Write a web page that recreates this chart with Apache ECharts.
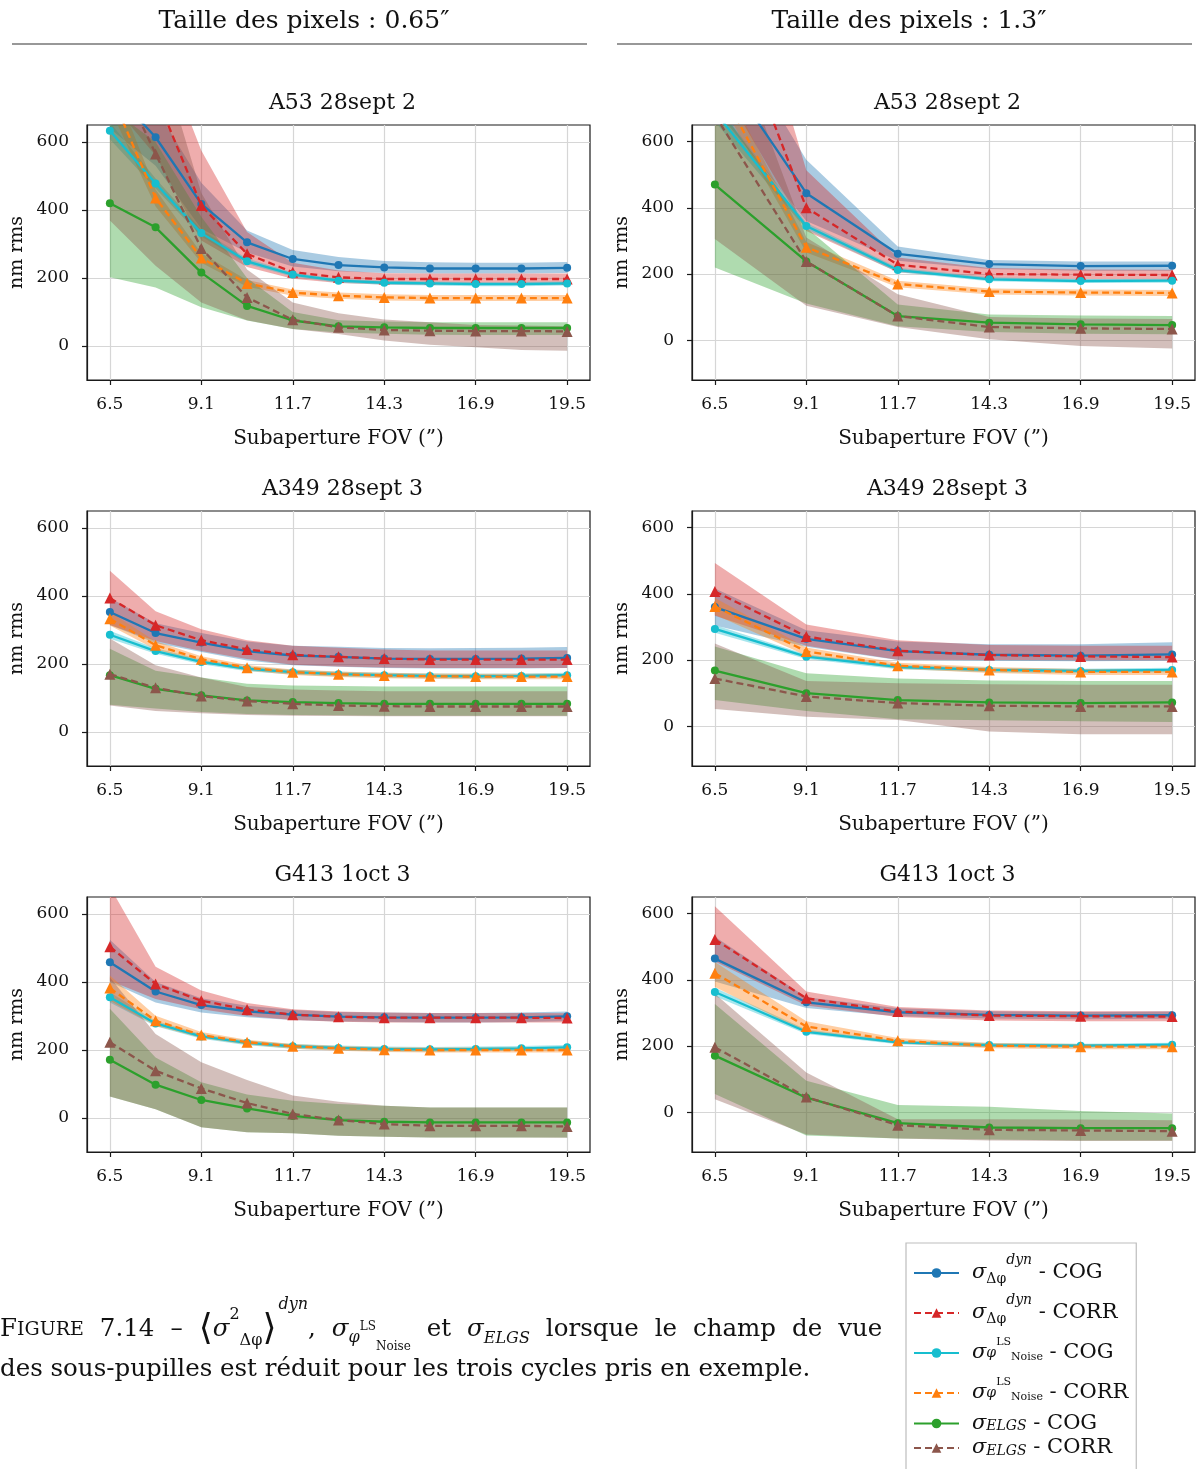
<!DOCTYPE html>
<html><head><meta charset="utf-8">
<script src="https://cdn.jsdelivr.net/npm/echarts@6.0.0/dist/echarts.min.js"></script>
<style>html,body{margin:0;padding:0;background:#fff}#c{width:1203px;height:1469px}</style>
</head><body><div id="c"></div>
<script>
// ---------------- DATA ----------------
const xFine = [6.5, 7.8, 9.1, 10.4, 11.7, 13.0, 14.3, 15.6, 16.9, 18.2, 19.5];
const xCoarse = [6.5, 9.1, 11.7, 14.3, 16.9, 19.5];
const xTicks = [6.5, 9.1, 11.7, 14.3, 16.9, 19.5];
const yTicks = [0, 200, 400, 600];
const panelTitles = ['A53 28sept 2', 'A53 28sept 2', 'A349 28sept 3', 'A349 28sept 3', 'G413 1oct 3', 'G413 1oct 3'];
const columnHeaders = ['Taille des pixels : 0.65\u2033', 'Taille des pixels : 1.3\u2033'];
const seriesKeys = ['dynCOG', 'dynCORR', 'noiseCOG', 'noiseCORR', 'elgsCOG', 'elgsCORR'];
const xAxisName = 'Subaperture FOV (\u201d)';
const yAxisName = 'nm rms';

// Panel 1 : A53 28sept 2, 0.65"
const p1_dynCOG      = [760, 614, 418, 305, 256, 238, 231, 228, 228, 228, 230];
const p1_dynCOG_lo   = [640, 530, 345, 275, 234, 220, 215, 213, 213, 213, 215];
const p1_dynCOG_hi   = [880, 700, 480, 340, 282, 262, 250, 246, 245, 245, 247];
const p1_dynCORR     = [920, 740, 413, 271, 217, 202, 197, 197, 197, 197, 197];
const p1_dynCORR_lo  = [720, 560, 310, 232, 198, 185, 181, 180, 180, 180, 180];
const p1_dynCORR_hi  = [1120, 920, 575, 335, 245, 222, 214, 213, 213, 213, 213];
const p1_noiseCOG    = [633, 478, 332, 249, 210, 192, 186, 184, 182, 182, 184];
const p1_noiseCOG_lo = [608, 463, 322, 241, 204, 186, 180, 178, 176, 176, 178];
const p1_noiseCOG_hi = [658, 493, 342, 257, 216, 198, 192, 190, 188, 188, 190];
const p1_noiseCORR   = [750, 435, 259, 184, 157, 148, 143, 141, 141, 141, 141];
const p1_noiseCORR_lo= [700, 410, 245, 174, 148, 139, 134, 132, 132, 132, 132];
const p1_noiseCORR_hi= [800, 460, 273, 194, 166, 157, 152, 150, 150, 150, 150];
const p1_elgsCOG     = [420, 349, 216, 118, 75, 58, 55, 53, 53, 53, 53];
const p1_elgsCOG_lo  = [202, 172, 114, 75, 50, 40, 36, 33, 32, 32, 32];
const p1_elgsCOG_hi  = [700, 600, 380, 200, 100, 76, 72, 70, 70, 70, 70];
const p1_elgsCORR    = [850, 565, 287, 143, 77, 55, 47, 45, 44, 44, 43];
const p1_elgsCORR_lo = [369, 236, 128, 76, 50, 35, 16, 4, -4, -12, -14];
const p1_elgsCORR_hi = [1300, 900, 450, 225, 128, 96, 78, 70, 62, 60, 58];

// Panel 2 : A53 28sept 2, 1.3"
const p2_dynCOG      = [850, 444, 261, 230, 224, 225];
const p2_dynCOG_lo   = [700, 360, 240, 215, 210, 210];
const p2_dynCOG_hi   = [1000, 545, 283, 242, 238, 238];
const p2_dynCORR     = [1120, 400, 228, 200, 198, 197];
const p2_dynCORR_lo  = [800, 330, 205, 186, 184, 183];
const p2_dynCORR_hi  = [1450, 513, 250, 218, 214, 213];
const p2_noiseCOG    = [690, 345, 212, 184, 179, 180];
const p2_noiseCOG_lo = [660, 335, 205, 178, 173, 174];
const p2_noiseCOG_hi = [720, 355, 219, 190, 185, 186];
const p2_noiseCORR   = [790, 281, 170, 147, 144, 143];
const p2_noiseCORR_lo= [750, 265, 160, 138, 135, 134];
const p2_noiseCORR_hi= [830, 297, 180, 156, 153, 152];
const p2_elgsCOG     = [470, 238, 73, 53, 48, 46];
const p2_elgsCOG_lo  = [220, 111, 42, 25, 20, 18];
const p2_elgsCOG_hi  = [720, 340, 108, 78, 75, 73];
const p2_elgsCORR    = [680, 238, 73, 40, 36, 34];
const p2_elgsCORR_lo = [306, 104, 40, 3, -17, -25];
const p2_elgsCORR_hi = [1050, 310, 139, 70, 66, 64];

// Panel 3 : A349 28sept 3, 0.65"
const p3_dynCOG      = [353, 291, 263, 238, 225, 221, 216, 215, 215, 216, 218];
const p3_dynCOG_lo   = [315, 262, 235, 210, 196, 192, 188, 187, 187, 187, 188];
const p3_dynCOG_hi   = [395, 320, 291, 266, 254, 251, 247, 246, 247, 248, 250];
const p3_dynCORR     = [394, 314, 270, 243, 227, 221, 216, 213, 213, 213, 213];
const p3_dynCORR_lo  = [315, 268, 238, 215, 198, 193, 190, 188, 188, 188, 188];
const p3_dynCORR_hi  = [474, 355, 302, 270, 254, 248, 243, 240, 240, 240, 240];
const p3_noiseCOG    = [286, 238, 206, 186, 176, 170, 167, 165, 164, 165, 167];
const p3_noiseCOG_lo = [274, 230, 199, 179, 169, 163, 160, 158, 157, 158, 160];
const p3_noiseCOG_hi = [298, 246, 213, 193, 183, 177, 174, 172, 171, 172, 174];
const p3_noiseCORR   = [333, 255, 214, 189, 176, 170, 166, 164, 163, 163, 163];
const p3_noiseCORR_lo= [313, 243, 205, 181, 168, 162, 158, 156, 155, 155, 155];
const p3_noiseCORR_hi= [353, 267, 223, 197, 184, 178, 174, 172, 171, 171, 171];
const p3_elgsCOG     = [167, 127, 108, 93, 88, 85, 83, 83, 83, 83, 83];
const p3_elgsCOG_lo  = [80, 69, 59, 53, 50, 49, 48, 48, 48, 48, 48];
const p3_elgsCOG_hi  = [245, 180, 160, 142, 137, 135, 134, 134, 134, 134, 134];
const p3_elgsCORR    = [170, 130, 106, 91, 83, 78, 76, 75, 75, 75, 75];
const p3_elgsCORR_lo = [78, 62, 55, 50, 48, 47, 46, 46, 46, 46, 46];
const p3_elgsCORR_hi = [275, 196, 160, 132, 125, 122, 120, 120, 120, 120, 120];

// Panel 4 : A349 28sept 3, 1.3"
const p4_dynCOG      = [360, 264, 227, 216, 213, 217];
const p4_dynCOG_lo   = [304, 240, 200, 198, 196, 198];
const p4_dynCOG_hi   = [416, 290, 256, 248, 248, 254];
const p4_dynCORR     = [407, 271, 228, 215, 211, 209];
const p4_dynCORR_lo  = [334, 243, 201, 200, 199, 199];
const p4_dynCORR_hi  = [493, 307, 260, 245, 243, 243];
const p4_noiseCOG    = [294, 210, 179, 170, 167, 170];
const p4_noiseCOG_lo = [282, 203, 172, 163, 160, 163];
const p4_noiseCOG_hi = [306, 217, 186, 177, 174, 177];
const p4_noiseCORR   = [362, 226, 183, 170, 164, 164];
const p4_noiseCORR_lo= [337, 214, 174, 161, 155, 155];
const p4_noiseCORR_hi= [387, 238, 192, 179, 173, 173];
const p4_elgsCOG     = [168, 100, 79, 72, 70, 72];
const p4_elgsCOG_lo  = [79, 46, 21, 18, 15, 13];
const p4_elgsCOG_hi  = [241, 160, 144, 138, 137, 137];
const p4_elgsCORR    = [144, 90, 70, 62, 60, 60];
const p4_elgsCORR_lo = [52, 29, 19, -16, -24, -24];
const p4_elgsCORR_hi = [250, 137, 130, 127, 125, 125];

// Panel 5 : G413 1oct 3, 0.65"
const p5_dynCOG      = [458, 372, 332, 314, 304, 298, 296, 295, 295, 296, 299];
const p5_dynCOG_lo   = [400, 340, 310, 296, 288, 284, 282, 281, 281, 282, 285];
const p5_dynCOG_hi   = [524, 400, 352, 330, 318, 312, 310, 309, 309, 310, 313];
const p5_dynCORR     = [504, 394, 345, 319, 304, 298, 295, 295, 295, 295, 294];
const p5_dynCORR_lo  = [404, 350, 320, 300, 288, 283, 281, 281, 281, 281, 281];
const p5_dynCORR_hi  = [680, 445, 375, 338, 320, 313, 310, 309, 309, 309, 308];
const p5_noiseCOG    = [355, 278, 240, 221, 211, 206, 203, 202, 203, 205, 208];
const p5_noiseCOG_lo = [340, 270, 233, 214, 204, 199, 196, 195, 196, 198, 201];
const p5_noiseCOG_hi = [370, 286, 247, 228, 218, 213, 210, 209, 210, 212, 215];
const p5_noiseCORR   = [382, 286, 244, 223, 211, 205, 201, 200, 200, 200, 200];
const p5_noiseCORR_lo= [345, 271, 235, 216, 204, 198, 194, 193, 193, 193, 193];
const p5_noiseCORR_hi= [419, 301, 253, 230, 218, 212, 208, 207, 207, 207, 207];
const p5_elgsCOG     = [171, 98, 53, 28, 6, -6, -11, -13, -13, -13, -13];
const p5_elgsCOG_lo  = [63, 26, -27, -42, -45, -52, -55, -57, -57, -57, -57];
const p5_elgsCOG_hi  = [321, 178, 105, 69, 51, 41, 36, 31, 31, 31, 31];
const p5_elgsCORR    = [223, 139, 87, 44, 12, -6, -18, -23, -23, -23, -25];
const p5_elgsCORR_lo = [63, 26, -27, -42, -45, -52, -55, -57, -57, -57, -58];
const p5_elgsCORR_hi = [414, 247, 164, 112, 66, 48, 36, 31, 31, 31, 31];

// Panel 6 : G413 1oct 3, 1.3"
const p6_dynCOG      = [464, 332, 302, 294, 292, 293];
const p6_dynCOG_lo   = [395, 315, 290, 283, 281, 282];
const p6_dynCOG_hi   = [530, 347, 314, 305, 303, 304];
const p6_dynCORR     = [522, 344, 304, 292, 290, 289];
const p6_dynCORR_lo  = [455, 322, 288, 277, 275, 275];
const p6_dynCORR_hi  = [622, 365, 318, 307, 305, 305];
const p6_noiseCOG    = [363, 243, 211, 203, 201, 204];
const p6_noiseCOG_lo = [350, 236, 205, 197, 195, 198];
const p6_noiseCOG_hi = [376, 250, 217, 209, 207, 210];
const p6_noiseCORR   = [420, 259, 216, 201, 198, 198];
const p6_noiseCORR_lo= [378, 241, 208, 193, 190, 190];
const p6_noiseCORR_hi= [454, 275, 224, 209, 206, 206];
const p6_elgsCOG     = [171, 44, -33, -46, -48, -48];
const p6_elgsCOG_lo  = [55, -70, -79, -82, -85, -85];
const p6_elgsCOG_hi  = [327, 95, 22, 17, 4, -4];
const p6_elgsCORR    = [196, 46, -39, -53, -55, -57];
const p6_elgsCORR_lo = [39, -67, -79, -85, -87, -87];
const p6_elgsCORR_hi = [358, 120, -21, -21, -22, -24];

// ---------------- ASSEMBLY ----------------
const panels = [
  {x: xFine, d: {dynCOG:[p1_dynCOG,p1_dynCOG_lo,p1_dynCOG_hi], dynCORR:[p1_dynCORR,p1_dynCORR_lo,p1_dynCORR_hi], noiseCOG:[p1_noiseCOG,p1_noiseCOG_lo,p1_noiseCOG_hi], noiseCORR:[p1_noiseCORR,p1_noiseCORR_lo,p1_noiseCORR_hi], elgsCOG:[p1_elgsCOG,p1_elgsCOG_lo,p1_elgsCOG_hi], elgsCORR:[p1_elgsCORR,p1_elgsCORR_lo,p1_elgsCORR_hi]}},
  {x: xCoarse, d: {dynCOG:[p2_dynCOG,p2_dynCOG_lo,p2_dynCOG_hi], dynCORR:[p2_dynCORR,p2_dynCORR_lo,p2_dynCORR_hi], noiseCOG:[p2_noiseCOG,p2_noiseCOG_lo,p2_noiseCOG_hi], noiseCORR:[p2_noiseCORR,p2_noiseCORR_lo,p2_noiseCORR_hi], elgsCOG:[p2_elgsCOG,p2_elgsCOG_lo,p2_elgsCOG_hi], elgsCORR:[p2_elgsCORR,p2_elgsCORR_lo,p2_elgsCORR_hi]}},
  {x: xFine, d: {dynCOG:[p3_dynCOG,p3_dynCOG_lo,p3_dynCOG_hi], dynCORR:[p3_dynCORR,p3_dynCORR_lo,p3_dynCORR_hi], noiseCOG:[p3_noiseCOG,p3_noiseCOG_lo,p3_noiseCOG_hi], noiseCORR:[p3_noiseCORR,p3_noiseCORR_lo,p3_noiseCORR_hi], elgsCOG:[p3_elgsCOG,p3_elgsCOG_lo,p3_elgsCOG_hi], elgsCORR:[p3_elgsCORR,p3_elgsCORR_lo,p3_elgsCORR_hi]}},
  {x: xCoarse, d: {dynCOG:[p4_dynCOG,p4_dynCOG_lo,p4_dynCOG_hi], dynCORR:[p4_dynCORR,p4_dynCORR_lo,p4_dynCORR_hi], noiseCOG:[p4_noiseCOG,p4_noiseCOG_lo,p4_noiseCOG_hi], noiseCORR:[p4_noiseCORR,p4_noiseCORR_lo,p4_noiseCORR_hi], elgsCOG:[p4_elgsCOG,p4_elgsCOG_lo,p4_elgsCOG_hi], elgsCORR:[p4_elgsCORR,p4_elgsCORR_lo,p4_elgsCORR_hi]}},
  {x: xFine, d: {dynCOG:[p5_dynCOG,p5_dynCOG_lo,p5_dynCOG_hi], dynCORR:[p5_dynCORR,p5_dynCORR_lo,p5_dynCORR_hi], noiseCOG:[p5_noiseCOG,p5_noiseCOG_lo,p5_noiseCOG_hi], noiseCORR:[p5_noiseCORR,p5_noiseCORR_lo,p5_noiseCORR_hi], elgsCOG:[p5_elgsCOG,p5_elgsCOG_lo,p5_elgsCOG_hi], elgsCORR:[p5_elgsCORR,p5_elgsCORR_lo,p5_elgsCORR_hi]}},
  {x: xCoarse, d: {dynCOG:[p6_dynCOG,p6_dynCOG_lo,p6_dynCOG_hi], dynCORR:[p6_dynCORR,p6_dynCORR_lo,p6_dynCORR_hi], noiseCOG:[p6_noiseCOG,p6_noiseCOG_lo,p6_noiseCOG_hi], noiseCORR:[p6_noiseCORR,p6_noiseCORR_lo,p6_noiseCORR_hi], elgsCOG:[p6_elgsCOG,p6_elgsCOG_lo,p6_elgsCOG_hi], elgsCORR:[p6_elgsCORR,p6_elgsCORR_lo,p6_elgsCORR_hi]}}
];

const F = 'DejaVu Serif';
const TXT = '#111';
const sty = {
  dynCOG:   {color:'#1f77b4', band:'rgba(31,119,180,0.38)',  type:'solid', symbol:'circle',   size:8},
  dynCORR:  {color:'#d62728', band:'rgba(214,39,40,0.38)',   type:[7,4],   symbol:'triangle', size:11},
  noiseCOG: {color:'#17becf', band:'rgba(23,190,207,0.38)',  type:'solid', symbol:'circle',   size:8},
  noiseCORR:{color:'#ff7f0e', band:'rgba(255,127,14,0.38)',  type:[7,4],   symbol:'triangle', size:11},
  elgsCOG:  {color:'#2ca02c', band:'rgba(44,160,44,0.38)',   type:'solid', symbol:'circle',   size:8},
  elgsCORR: {color:'#8c564b', band:'rgba(140,86,75,0.38)',   type:[7,4],   symbol:'triangle', size:11}
};
const gridPos = [[87,125],[692,125],[87,511],[692,511],[87,897],[692,897]];
const GW = 503, GH = 255;

function bandRenderer(fill) {
  return function (params, api) {
    if (params.dataIndexInside !== 0) return null;
    const n = params.dataInsideLength;
    const up = [], dn = [];
    for (let j = 0; j < n; j++) {
      const xv = api.value(0, j);
      up.push(api.coord([xv, api.value(2, j)]));
      dn.push(api.coord([xv, api.value(1, j)]));
    }
    return {type: 'polygon', shape: {points: up.concat(dn.reverse())}, style: {fill: fill}, silent: true};
  };
}

const grids = [], xAxes = [], yAxes = [], series = [], titles = [];
panels.forEach((p, i) => {
  const [gl, gt] = gridPos[i];
  grids.push({left: gl, top: gt, width: GW, height: GH, show: true, borderColor: '#1a1a1a', borderWidth: 1.2, outerBoundsMode: 'none', containLabel: false});
  xAxes.push({
    gridIndex: i, type: 'value', min: 5.85, max: 20.15,
    axisLine: {show: true, onZero: false, lineStyle: {color: '#1a1a1a', width: 1.2}},
    axisTick: {show: true, customValues: xTicks, length: 5, lineStyle: {color: '#1a1a1a', width: 1.2}},
    axisLabel: {customValues: xTicks, formatter: v => Number(v).toFixed(1), margin: 16, fontFamily: F, fontSize: 17, color: TXT},
    splitLine: {show: true, lineStyle: {color: '#d6d6d6', width: 1.2}},
    name: xAxisName, nameLocation: 'middle', nameGap: 49,
    nameTextStyle: {fontFamily: F, fontSize: 20, color: TXT}
  });
  const yMin = (i % 2 === 0) ? -100 : -120;
  yAxes.push({
    gridIndex: i, type: 'value', min: yMin, max: 650,
    axisLine: {show: true, onZero: false, lineStyle: {color: '#1a1a1a', width: 1.2}},
    axisTick: {show: true, customValues: yTicks, length: 5, lineStyle: {color: '#1a1a1a', width: 1.2}},
    axisLabel: {customValues: yTicks, formatter: v => String(Math.round(v)), margin: 18, fontFamily: F, fontSize: 17, color: TXT},
    splitLine: {show: true, lineStyle: {color: '#d6d6d6', width: 1.2}},
    name: yAxisName, nameLocation: 'middle', nameGap: 60,
    nameTextStyle: {fontFamily: F, fontSize: 19, color: TXT}
  });
  titles.push({text: panelTitles[i], left: gl + GW / 2 - 1, top: gt - 38, textAlign: 'center',
    textStyle: {fontFamily: F, fontSize: 22, fontWeight: 'normal', color: TXT}});
  seriesKeys.forEach(k => {
    const [m, lo, hi] = p.d[k];
    series.push({type: 'custom', name: 'band', xAxisIndex: i, yAxisIndex: i, clip: true, silent: true, z: 1,
      encode: {x: 0, y: [1, 2]},
      data: p.x.map((xv, j) => [xv, lo[j], hi[j]]),
      renderItem: bandRenderer(sty[k].band), animation: false});
  });
  seriesKeys.forEach((k, n) => {
    const m = p.d[k][0];
    series.push({type: 'line', name: k, xAxisIndex: i, yAxisIndex: i,
      data: p.x.map((xv, j) => [xv, m[j]]),
      symbol: sty[k].symbol, symbolSize: sty[k].size, showAllSymbol: true,
      lineStyle: {color: sty[k].color, width: 2.3, type: sty[k].type},
      itemStyle: {color: sty[k].color}, z: 3 + n, animation: false});
  });
});

titles.push({text: columnHeaders[0], left: 299, top: 4, textAlign: 'center', textStyle: {fontFamily: F, fontSize: 25, fontWeight: 'normal', color: TXT}});
titles.push({text: columnHeaders[1], left: 904, top: 4, textAlign: 'center', textStyle: {fontFamily: F, fontSize: 25, fontWeight: 'normal', color: TXT}});

const CF = 24.5;
const captionText =
  '{f|F}{sc|IGURE}{sp| }{b|7.14}{sp| }{b|\u2013}{sp| }{br|\u27e8}{m|\u03c3}{sup|2}{sub|\u0394\u03c6}{br|\u27e9}{supi|dyn}{b|,}{sp| }' +
  '{m|\u03c3}{subp|\u03c6}{tiny|LS}{tsub|Noise}{sp| }{b|et}{sp| }{m|\u03c3}{subi|ELGS}{sp| }{b|lorsque}{sp| }{b|le}{sp| }{b|champ}{sp| }{b|de}{sp| }{b|vue}\n' +
  '{l2|des sous-pupilles est r\u00e9duit pour les trois cycles pris en exemple.}';
titles.push({text: captionText, left: 0, top: 1297, padding: 0,
  textStyle: {fontFamily: F, fontSize: CF, fontWeight: 'normal', color: TXT,
    rich: {
      f: {fontFamily: F, fontSize: CF, lineHeight: 66, color: TXT},
      sc: {fontFamily: F, fontSize: 19, lineHeight: 66, color: TXT},
      sp: {fontFamily: F, fontSize: CF, lineHeight: 66, width: 16, color: TXT},
      b: {fontFamily: F, fontSize: CF, lineHeight: 66, color: TXT},
      br: {fontFamily: 'DejaVu Sans', fontSize: 36, lineHeight: 66, color: TXT},
      m: {fontFamily: F, fontSize: CF, fontStyle: 'italic', lineHeight: 66, color: TXT},
      sup: {fontFamily: F, fontSize: 16, lineHeight: 20, verticalAlign: 'top', padding: [10, 0, 0, 0], color: TXT},
      supi: {fontFamily: F, fontSize: 16, fontStyle: 'italic', lineHeight: 20, verticalAlign: 'top', padding: [0, 0, 0, 2], color: TXT},
      sub: {fontFamily: F, fontSize: 16, lineHeight: 20, verticalAlign: 'bottom', padding: [0, 0, 14, 0], color: TXT},
      subp: {fontFamily: F, fontSize: 16, fontStyle: 'italic', lineHeight: 20, verticalAlign: 'bottom', padding: [0, 0, 17, 0], color: TXT},
      subi: {fontFamily: F, fontSize: 16, fontStyle: 'italic', lineHeight: 20, verticalAlign: 'bottom', padding: [0, 0, 16, 0], color: TXT},
      tiny: {fontFamily: F, fontSize: 12, lineHeight: 20, verticalAlign: 'top', padding: [24, 0, 0, 0], color: TXT},
      tsub: {fontFamily: F, fontSize: 12, lineHeight: 20, verticalAlign: 'bottom', padding: [0, 0, 10, 0], color: TXT},
      l2: {fontFamily: F, fontSize: CF, lineHeight: 14, color: TXT}
    }}});

const legendLabels = {
  dynCOG:   '{s|\u03c3}{sub|\u0394\u03c6}{sup|dyn}{t| - COG}',
  dynCORR:  '{s|\u03c3}{sub|\u0394\u03c6}{sup|dyn}{t| - CORR}',
  noiseCOG: '{s|\u03c3}{subp|\u03c6}{tiny|LS}{tsub|Noise}{t| - COG}',
  noiseCORR:'{s|\u03c3}{subp|\u03c6}{tiny|LS}{tsub|Noise}{t| - CORR}',
  elgsCOG:  '{s2|\u03c3}{subi|ELGS}{t2| - COG}',
  elgsCORR: '{s2|\u03c3}{subi|ELGS}{t2| - CORR}'
};

const option = {
  backgroundColor: '#fff',
  animation: false,
  title: titles,
  grid: grids,
  xAxis: xAxes,
  yAxis: yAxes,
  series: series,
  legend: {
    data: seriesKeys, orient: 'vertical', left: 906, top: 1243, height: 260,
    padding: [10, 8, 20, 7], itemWidth: 45, itemHeight: 12, itemGap: 0,
    backgroundColor: '#fff', borderColor: '#bdbdbd', borderWidth: 1.2, borderRadius: 0,
    selectedMode: false,
    formatter: name => legendLabels[name],
    textStyle: {fontFamily: F, fontSize: 21, color: TXT,
      rich: {
        s: {fontFamily: F, fontSize: 21, fontStyle: 'italic', lineHeight: 40, padding: [0, 0, 0, 8], color: TXT},
        s2: {fontFamily: F, fontSize: 21, fontStyle: 'italic', lineHeight: 28, padding: [0, 0, 0, 8], color: TXT},
        sub: {fontFamily: F, fontSize: 14, lineHeight: 20, verticalAlign: 'bottom', padding: [0, 0, 7, 0], color: TXT},
        subp: {fontFamily: F, fontSize: 14, fontStyle: 'italic', lineHeight: 20, color: TXT},
        subi: {fontFamily: F, fontSize: 14, fontStyle: 'italic', lineHeight: 20, verticalAlign: 'bottom', padding: [0, 0, 4, 0], color: TXT},
        sup: {fontFamily: F, fontSize: 14, fontStyle: 'italic', lineHeight: 20, verticalAlign: 'top', color: TXT},
        tiny: {fontFamily: F, fontSize: 11, lineHeight: 20, verticalAlign: 'top', padding: [4, 0, 0, 0], color: TXT},
        tsub: {fontFamily: F, fontSize: 11, lineHeight: 20, verticalAlign: 'bottom', padding: [0, 0, 10, 0], color: TXT},
        t: {fontFamily: F, fontSize: 21, lineHeight: 40, color: TXT},
        t2: {fontFamily: F, fontSize: 21, lineHeight: 28, color: TXT}
      }}
  },
  graphic: [
    {type: 'line', shape: {x1: 12, y1: 44, x2: 587, y2: 44}, style: {stroke: '#333', lineWidth: 1.2}},
    {type: 'line', shape: {x1: 617, y1: 44, x2: 1192, y2: 44}, style: {stroke: '#333', lineWidth: 1.2}}
  ]
};

const chart = echarts.init(document.getElementById('c'), null, {renderer: 'canvas', width: 1203, height: 1469});
chart.setOption(option);
</script>
</body></html>
